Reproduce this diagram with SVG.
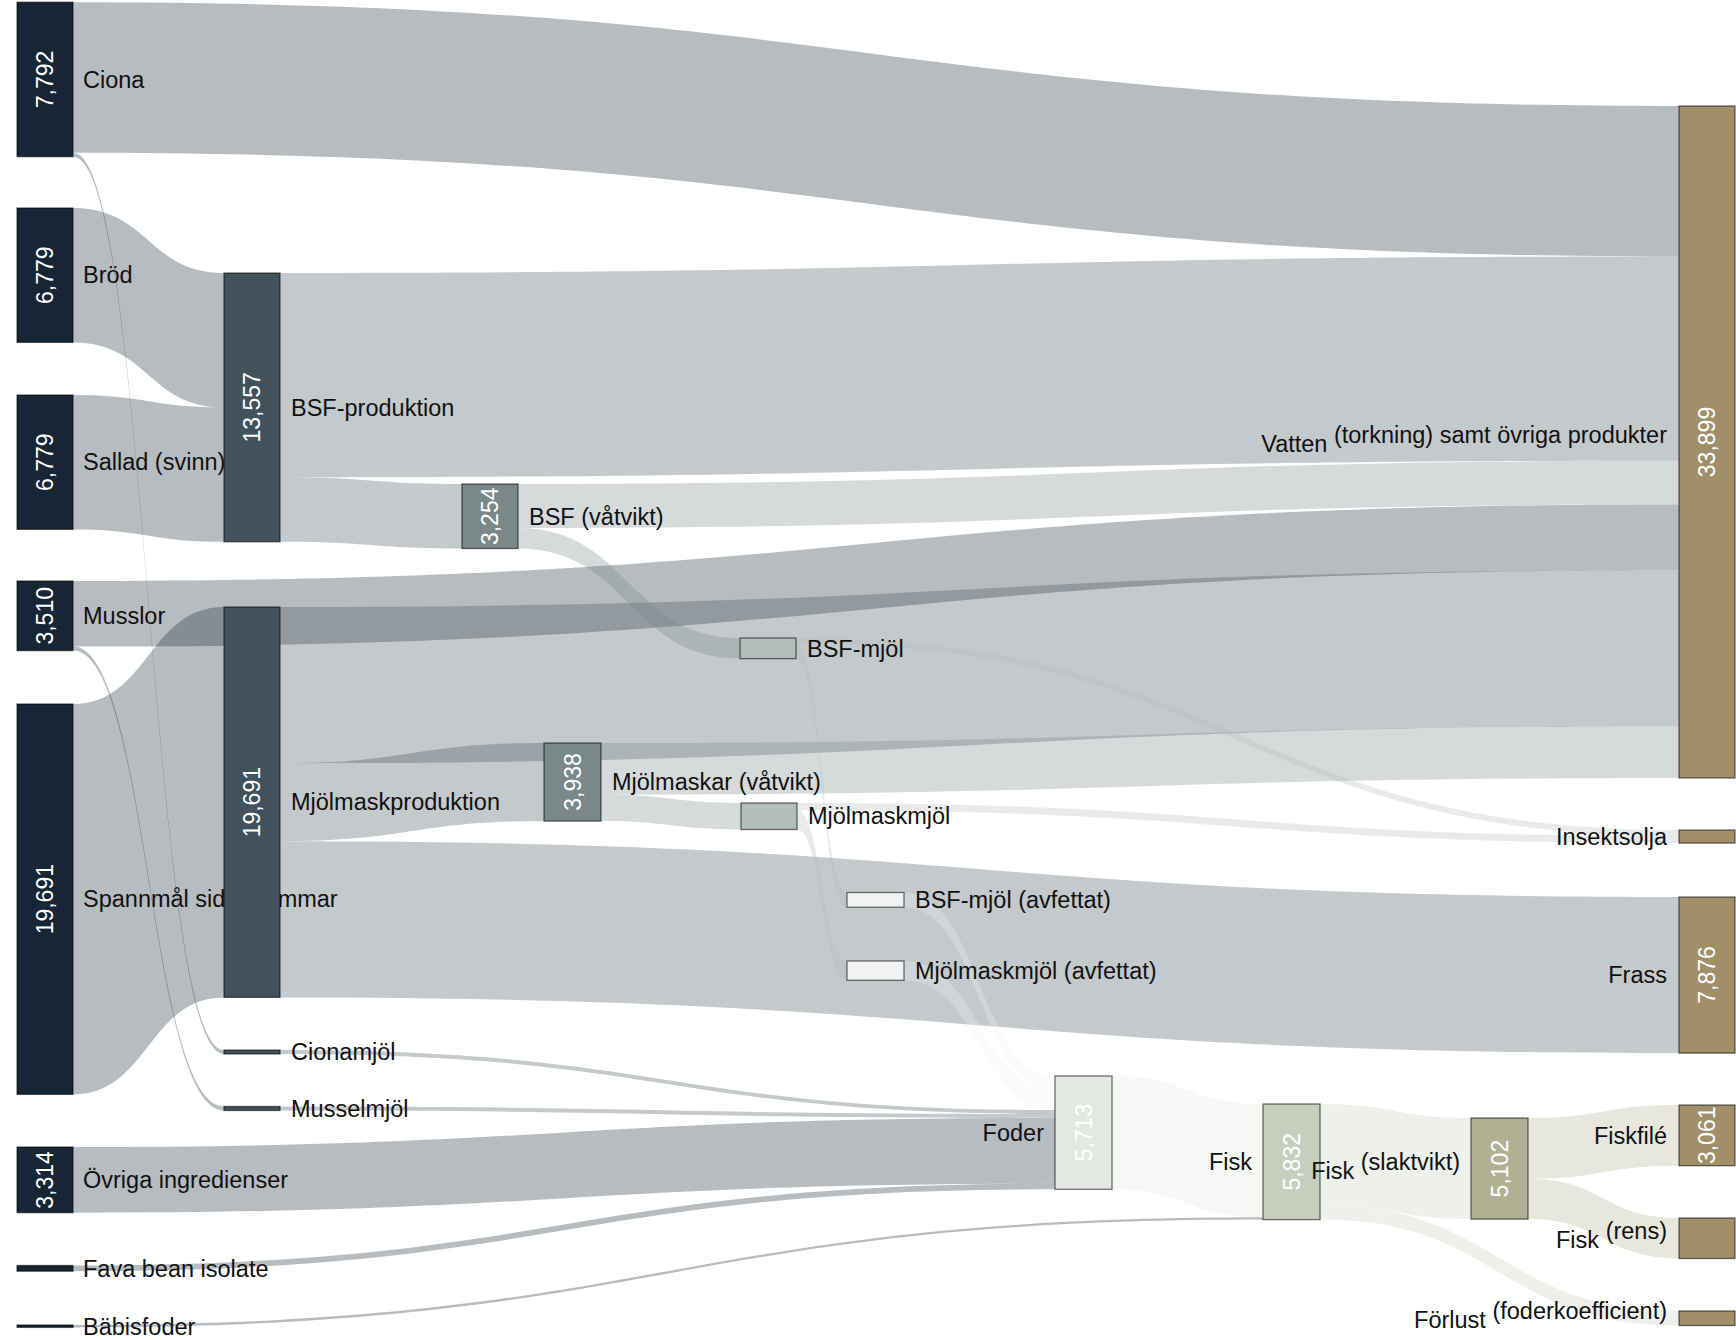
<svg xmlns="http://www.w3.org/2000/svg" width="1736" height="1340" viewBox="0 0 1736 1340">
<style>
.lk{fill-opacity:0.31}
.k0{fill:#162634}.k1{fill:#42525b}.k2{fill:#7a8889}.k3{fill:#b5bdbb}.k4{fill:#f1f3f2}.k5{fill:#e3e9e2}.k6{fill:#c6cfbd}.k7{fill:#b0b192}.k8{fill:#a08f69}
.nd{stroke:#000;stroke-opacity:0.55;stroke-width:1.3}
.lb{font-family:"Liberation Sans",Arial,sans-serif;font-size:23.5px;fill:#111}
.en{text-anchor:end}
.vl{font-family:"Liberation Sans",Arial,sans-serif;font-size:23px;fill:#fff;text-anchor:middle}
</style>
<rect width="1736" height="1340" fill="#fff"/>
<g id="links">
<path class="lk k0" d="M73 2.2C876 2.2 876 106 1679 106L1679 256.5C876 256.5 876 152.7 73 152.7Z"/>
<path class="lk k0" d="M73 152.7C148.5 152.7 148.5 1050 224 1050L224 1054C148.5 1054 148.5 156.7 73 156.7Z"/>
<path class="lk k0" d="M73 208C148.5 208 148.5 273 224 273L224 407.4C148.5 407.4 148.5 342.4 73 342.4Z"/>
<path class="lk k0" d="M73 395C148.5 395 148.5 407.4 224 407.4L224 541.8C148.5 541.8 148.5 529.4 73 529.4Z"/>
<path class="lk k0" d="M73 581C876 581 876 504.6 1679 504.6L1679 570.3C876 570.3 876 646.6 73 646.6Z"/>
<path class="lk k0" d="M73 646.6C148.5 646.6 148.5 1106.5 224 1106.5L224 1110.5C148.5 1110.5 148.5 650.6 73 650.6Z"/>
<path class="lk k0" d="M73 704C148.5 704 148.5 607 224 607L224 997.4C148.5 997.4 148.5 1094.4 73 1094.4Z"/>
<path class="lk k0" d="M73 1147C564 1147 564 1117.9 1055 1117.9L1055 1183.6C564 1183.6 564 1212.7 73 1212.7Z"/>
<path class="lk k0" d="M73 1265.5C564 1265.5 564 1183.6 1055 1183.6L1055 1189.3C564 1189.3 564 1271.2 73 1271.2Z"/>
<path class="lk k0" d="M73 1325C668 1325 668 1217.3 1263 1217.3L1263 1219.6C668 1219.6 668 1327.4 73 1327.4Z"/>
<path class="lk k1" d="M280 273C979.5 273 979.5 256.5 1679 256.5L1679 460.8C979.5 460.8 979.5 477.3 280 477.3Z"/>
<path class="lk k1" d="M280 477.3C371 477.3 371 484 462 484L462 548.5C371 548.5 371 541.8 280 541.8Z"/>
<path class="lk k1" d="M280 607C979.5 607 979.5 570.3 1679 570.3L1679 726.4C979.5 726.4 979.5 763.2 280 763.2Z"/>
<path class="lk k1" d="M280 763.2C412 763.2 412 743 544 743L544 821.1C412 821.1 412 841.2 280 841.2Z"/>
<path class="lk k1" d="M280 841.2C979.5 841.2 979.5 897 1679 897L1679 1053.1C979.5 1053.1 979.5 997.4 280 997.4Z"/>
<path class="lk k1" d="M280 1050C667.5 1050 667.5 1110 1055 1110L1055 1113.9C667.5 1113.9 667.5 1054 280 1054Z"/>
<path class="lk k1" d="M280 1106.5C667.5 1106.5 667.5 1113.9 1055 1113.9L1055 1117.9C667.5 1117.9 667.5 1110.5 280 1110.5Z"/>
<path class="lk k2" d="M518 484C1098.5 484 1098.5 460.8 1679 460.8L1679 504.6C1098.5 504.6 1098.5 527.9 518 527.9Z"/>
<path class="lk k2" d="M518 527.9C629 527.9 629 638 740 638L740 658.6C629 658.6 629 548.5 518 548.5Z"/>
<path class="lk k2" d="M601 743C1140 743 1140 726.4 1679 726.4L1679 778C1140 778 1140 794.6 601 794.6Z"/>
<path class="lk k2" d="M601 794.6C671 794.6 671 803 741 803L741 829.5C671 829.5 671 821.1 601 821.1Z"/>
<path class="lk k3" d="M796 638C1237.5 638 1237.5 830 1679 830L1679 836C1237.5 836 1237.5 644 796 644Z"/>
<path class="lk k3" d="M796 644C821.5 644 821.5 892.5 847 892.5L847 907.2C821.5 907.2 821.5 658.6 796 658.6Z"/>
<path class="lk k3" d="M797 803C1238 803 1238 836 1679 836L1679 843.1C1238 843.1 1238 810.2 797 810.2Z"/>
<path class="lk k3" d="M797 810.2C822 810.2 822 961 847 961L847 980.3C822 980.3 822 829.5 797 829.5Z"/>
<path class="lk k4" d="M904 892.5C979.5 892.5 979.5 1076 1055 1076L1055 1090.7C979.5 1090.7 979.5 907.2 904 907.2Z"/>
<path class="lk k4" d="M904 961C979.5 961 979.5 1090.7 1055 1090.7L1055 1110C979.5 1110 979.5 980.3 904 980.3Z"/>
<path class="lk k5" d="M1112 1076C1187.5 1076 1187.5 1104 1263 1104L1263 1217.3C1187.5 1217.3 1187.5 1189.3 1112 1189.3Z"/>
<path class="lk k6" d="M1320 1104C1395.5 1104 1395.5 1118 1471 1118L1471 1219.1C1395.5 1219.1 1395.5 1205.1 1320 1205.1Z"/>
<path class="lk k6" d="M1320 1205.1C1499.5 1205.1 1499.5 1311 1679 1311L1679 1325.5C1499.5 1325.5 1499.5 1219.6 1320 1219.6Z"/>
<path class="lk k7" d="M1528 1118C1603.5 1118 1603.5 1105 1679 1105L1679 1165.7C1603.5 1165.7 1603.5 1178.7 1528 1178.7Z"/>
<path class="lk k7" d="M1528 1178.7C1603.5 1178.7 1603.5 1218 1679 1218L1679 1258.5C1603.5 1258.5 1603.5 1219.1 1528 1219.1Z"/>
</g>
<g id="n-ciona"><rect class="nd k0" x="17" y="2.2" width="56" height="154.5"/><text class="lb" x="83" y="87.5">Ciona</text><text class="vl" transform="translate(45 79.4) rotate(-90)" y="8">7,792</text></g>
<g id="n-brod"><rect class="nd k0" x="17" y="208" width="56" height="134.4"/><text class="lb" x="83" y="283">Bröd</text><text class="vl" transform="translate(45 275.2) rotate(-90)" y="8">6,779</text></g>
<g id="n-sallad"><rect class="nd k0" x="17" y="395" width="56" height="134.4"/><text class="lb" x="83" y="470">Sallad (svinn)</text><text class="vl" transform="translate(45 462.2) rotate(-90)" y="8">6,779</text></g>
<g id="n-musslor"><rect class="nd k0" x="17" y="581" width="56" height="69.6"/><text class="lb" x="83" y="624">Musslor</text><text class="vl" transform="translate(45 615.8) rotate(-90)" y="8">3,510</text></g>
<g id="n-spannmal"><rect class="nd k0" x="17" y="704" width="56" height="390.4"/><text class="lb" x="83" y="907">Spannmål sidoströmmar</text><text class="vl" transform="translate(45 899.2) rotate(-90)" y="8">19,691</text></g>
<g id="n-ovriga"><rect class="nd k0" x="17" y="1147" width="56" height="65.7"/><text class="lb" x="83" y="1188">Övriga ingredienser</text><text class="vl" transform="translate(45 1179.9) rotate(-90)" y="8">3,314</text></g>
<g id="n-fava"><rect class="nd k0" x="17" y="1265.5" width="56" height="5.7"/><text class="lb" x="83" y="1276.5">Fava bean isolate</text></g>
<g id="n-babis"><rect class="nd k0" x="17" y="1325" width="56" height="2.4"/><text class="lb" x="83" y="1334.5">Bäbisfoder</text></g>
<g id="n-bsfprod"><rect class="nd k1" x="224" y="273" width="56" height="268.8"/><text class="lb" x="291" y="415.5">BSF-produktion</text><text class="vl" transform="translate(252 407.4) rotate(-90)" y="8">13,557</text></g>
<g id="n-mjolprod"><rect class="nd k1" x="224" y="607" width="56" height="390.4"/><text class="lb" x="291" y="810">Mjölmaskproduktion</text><text class="vl" transform="translate(252 802.2) rotate(-90)" y="8">19,691</text></g>
<g id="n-cionamjol"><rect class="nd k1" x="224" y="1050" width="56" height="4"/><text class="lb" x="291" y="1060">Cionamjöl</text></g>
<g id="n-musselmjol"><rect class="nd k1" x="224" y="1106.5" width="56" height="4"/><text class="lb" x="291" y="1116.5">Musselmjöl</text></g>
<g id="n-bsfvat"><rect class="nd k2" x="462" y="484" width="56" height="64.5"/><text class="lb" x="529" y="524.5">BSF (våtvikt)</text><text class="vl" transform="translate(490 516.3) rotate(-90)" y="8">3,254</text></g>
<g id="n-mjolvat"><rect class="nd k2" x="544" y="743" width="57" height="78.1"/><text class="lb" x="612" y="790">Mjölmaskar (våtvikt)</text><text class="vl" transform="translate(572.5 782) rotate(-90)" y="8">3,938</text></g>
<g id="n-bsfmjol"><rect class="nd k3" x="740" y="638" width="56" height="20.6"/><text class="lb" x="807" y="656.5">BSF-mjöl</text></g>
<g id="n-mjolmjol"><rect class="nd k3" x="741" y="803" width="56" height="26.5"/><text class="lb" x="808" y="824">Mjölmaskmjöl</text></g>
<g id="n-bsfavf"><rect class="nd k4" x="847" y="892.5" width="57" height="14.7"/><text class="lb" x="915" y="908">BSF-mjöl (avfettat)</text></g>
<g id="n-mjolavf"><rect class="nd k4" x="847" y="961" width="57" height="19.3"/><text class="lb" x="915" y="979">Mjölmaskmjöl (avfettat)</text></g>
<g id="n-foder"><rect class="nd k5" x="1055" y="1076" width="57" height="113.3"/><text class="lb en" x="1044" y="1141">Foder</text><text class="vl" transform="translate(1083.5 1132.6) rotate(-90)" y="8">5,713</text></g>
<g id="n-fisk"><rect class="nd k6" x="1263" y="1104" width="57" height="115.6"/><text class="lb en" x="1252" y="1170">Fisk</text><text class="vl" transform="translate(1291.5 1161.8) rotate(-90)" y="8">5,832</text></g>
<g id="n-fiskslakt"><rect class="nd k7" x="1471" y="1118" width="57" height="101.1"/><text class="lb en" x="1460" y="1178.5">Fisk <tspan dy="-9">(slaktvikt)</tspan></text><text class="vl" transform="translate(1499.5 1168.6) rotate(-90)" y="8">5,102</text></g>
<g id="n-vatten"><rect class="nd k8" x="1679" y="106" width="56" height="672"/><text class="lb en" x="1667" y="452">Vatten <tspan dy="-9">(torkning) samt övriga produkter</tspan></text><text class="vl" transform="translate(1707 442) rotate(-90)" y="8">33,899</text></g>
<g id="n-insektsolja"><rect class="nd k8" x="1679" y="830" width="56" height="13.1"/><text class="lb en" x="1667" y="845">Insektsolja</text></g>
<g id="n-frass"><rect class="nd k8" x="1679" y="897" width="56" height="156.1"/><text class="lb en" x="1667" y="983">Frass</text><text class="vl" transform="translate(1707 975) rotate(-90)" y="8">7,876</text></g>
<g id="n-fiskfile"><rect class="nd k8" x="1679" y="1105" width="56" height="60.7"/><text class="lb en" x="1667" y="1143.5">Fiskfilé</text><text class="vl" transform="translate(1707 1135.3) rotate(-90)" y="8">3,061</text></g>
<g id="n-fiskrens"><rect class="nd k8" x="1679" y="1218" width="56" height="40.5"/><text class="lb en" x="1667" y="1248">Fisk <tspan dy="-9">(rens)</tspan></text></g>
<g id="n-forlust"><rect class="nd k8" x="1679" y="1311" width="56" height="14.5"/><text class="lb en" x="1667" y="1328">Förlust <tspan dy="-9">(foderkoefficient)</tspan></text></g>
</svg>
